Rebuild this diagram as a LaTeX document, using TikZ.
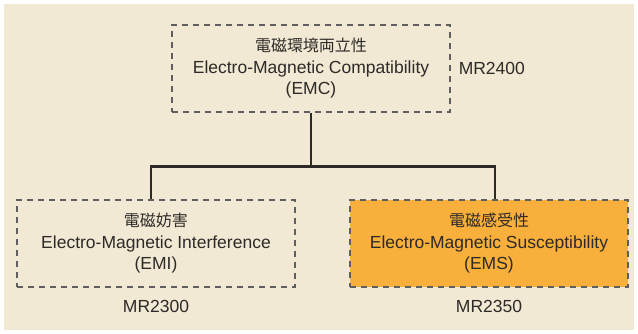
\documentclass[tikz,border=0pt]{standalone}
\usepackage{fontspec}
\setmainfont{Liberation Sans}
\newfontfamily\jpfont{Noto Sans CJK JP}
\usepackage{tikz}

\definecolor{paper}{RGB}{241,233,211}
\definecolor{dashgray}{RGB}{95,95,95}
\definecolor{susc}{RGB}{248,175,60}
\definecolor{ink}{RGB}{45,42,40}
\newcommand{\jp}[1]{{\jpfont\fontsize{16}{21.5}\selectfont #1}}

\begin{document}
\begin{tikzpicture}[x=1pt, y=-1pt,
		font=\fontsize{17.5}{21.5}\selectfont,
		box/.style={draw=dashgray, line width=2.5pt, dash pattern=on 6pt off 5pt, minimum width=278pt, minimum height=87pt, align=center, text=ink, inner sep=0pt},
		wire/.style={draw=ink, line width=2.8pt}]
		\fill[white] (0,0) rectangle (638,333);
		\useasboundingbox (0,0) rectangle (638,333);
		\fill[paper] (4,4) rectangle (634,330);
		\node (emc) at (311,68.5) [box, label={[text=ink, label distance=4pt]right:MR2400}] {\jp{電磁環境両立性}\\Electro-Magnetic Compatibility\\(EMC)};
		\node (emi) at (156,243.5) [box, label={[text=ink, label distance=8.5pt]below:MR2300}] {\jp{電磁妨害}\\Electro-Magnetic Interference\\(EMI)};
		\node (ems) at (489,243.5) [box, fill=susc, label={[text=ink, label distance=8.5pt]below:MR2350}] {\jp{電磁感受性}\\Electro-Magnetic Susceptibility\\(EMS)};
		\draw[wire] (emc.south) -- ++(0,53) coordinate (fork);
		\draw[wire] ([xshift=-5pt]emi.north) |- (fork) -| ([xshift=6pt]ems.north);
	\end{tikzpicture}
\end{document}
